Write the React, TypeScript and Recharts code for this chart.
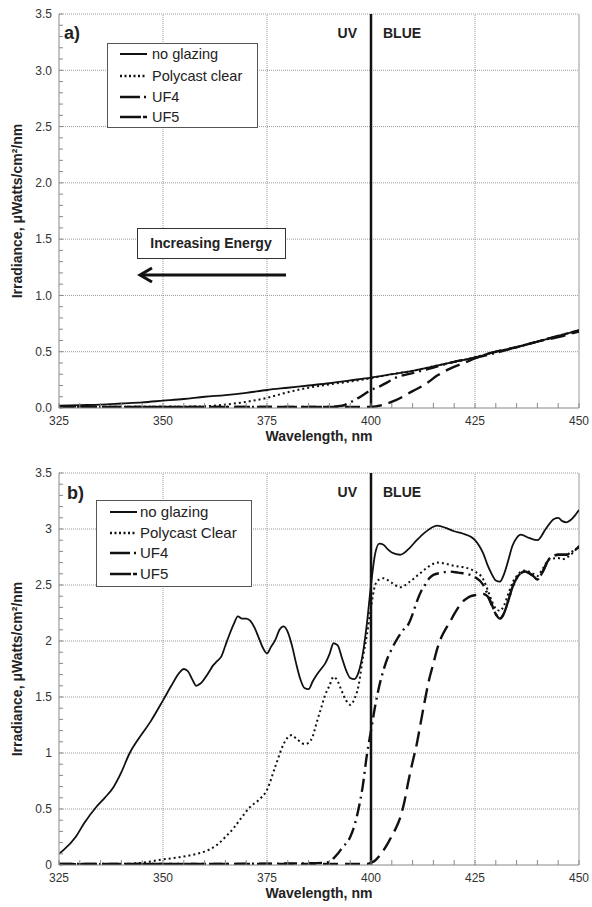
import React from "react";
import { LineChart, Line, XAxis, YAxis, ReferenceLine } from "recharts";

const FONT = '"Liberation Sans", Arial, Helvetica, sans-serif';
const INK = "#111";
const GRID = "#9a9a9a";
const AXIS = "#888";

// axis ticks
const X_MAJOR = [325, 350, 375, 400, 425, 450];
const X_TICKS = Array.from({ length: 26 }, (_, i) => 325 + i * 5);
const X_GRID = [350, 375, 425];
const Y_MAJOR = [0, 0.5, 1, 1.5, 2, 2.5, 3, 3.5];
const Y_TICKS = Array.from({ length: 36 }, (_, i) => i / 10);
const Y_GRID = [0.5, 1, 1.5, 2, 2.5, 3];

const LEGEND_A = ["no glazing", "Polycast clear", "UF4", "UF5"];
const LEGEND_B = ["no glazing", "Polycast Clear", "UF4", "UF5"];

// ---- panel a) ----
const aNoGlazingNm = [325, 330, 335, 340, 345, 350, 355, 360, 365, 370, 375, 380, 385, 390, 395, 400, 405, 410, 415, 420, 425, 430, 435, 440, 445, 450];
const aNoGlazing = [0.02, 0.025, 0.03, 0.04, 0.05, 0.065, 0.08, 0.1, 0.115, 0.135, 0.16, 0.18, 0.2, 0.22, 0.245, 0.27, 0.3, 0.33, 0.37, 0.41, 0.45, 0.5, 0.54, 0.59, 0.64, 0.69];

const aPolycastNm = [325, 330, 335, 340, 345, 350, 355, 360, 365, 370, 375, 380, 385, 390, 395, 400, 405, 410, 415, 420, 425, 430, 435, 440, 445, 450];
const aPolycast = [0.01, 0.01, 0.01, 0.01, 0.01, 0.01, 0.012, 0.015, 0.03, 0.055, 0.09, 0.14, 0.18, 0.21, 0.235, 0.265, 0.3, 0.33, 0.37, 0.41, 0.45, 0.5, 0.54, 0.59, 0.64, 0.69];

const aUF4Nm = [325, 340, 360, 380, 390, 393, 395, 397, 400, 402, 404, 406, 410, 415, 420, 425, 430, 435, 440, 445, 450];
const aUF4 = [0.01, 0.01, 0.01, 0.01, 0.01, 0.02, 0.05, 0.09, 0.16, 0.19, 0.23, 0.27, 0.31, 0.36, 0.41, 0.445, 0.49, 0.54, 0.59, 0.64, 0.69];

const aUF5Nm = [325, 340, 360, 380, 400, 403, 406, 410, 413, 416, 419, 423, 427, 430, 435, 440, 445, 450];
const aUF5 = [0.01, 0.01, 0.01, 0.01, 0.01, 0.03, 0.07, 0.15, 0.21, 0.29, 0.35, 0.41, 0.47, 0.5, 0.54, 0.59, 0.63, 0.68];

// ---- panel b) ----
const bNoGlazingNm = [325, 326, 329, 331, 334, 336, 338, 340, 342, 344, 347, 350, 352, 354, 355, 356, 357, 358, 359, 361, 362, 363, 364, 365, 366, 367, 368, 369, 370, 371, 372, 373, 374, 375, 376, 377, 378, 379, 380, 381, 382, 383, 384, 385, 386, 387, 388, 389, 390, 391, 392, 393, 394, 395, 396, 397, 398, 399, 400, 401, 402, 403, 404, 405, 407, 409, 411, 413, 415, 416, 418, 420, 422, 424, 425, 426, 427, 428, 429, 430, 431, 432, 433, 434, 435, 436, 438, 440, 442, 444, 445, 446, 447, 448, 449, 450];
const bNoGlazing = [0.1, 0.13, 0.25, 0.37, 0.52, 0.6, 0.69, 0.83, 1.0, 1.12, 1.28, 1.47, 1.6, 1.72, 1.75, 1.73, 1.66, 1.6, 1.62, 1.72, 1.78, 1.82, 1.86, 1.96, 2.06, 2.15, 2.22, 2.2, 2.2, 2.18, 2.12, 2.03, 1.94, 1.89, 1.95, 2.01, 2.1, 2.13, 2.08, 1.96, 1.8, 1.66, 1.58, 1.57, 1.64, 1.7, 1.75, 1.8, 1.88, 1.98, 1.96, 1.85, 1.74, 1.67, 1.66, 1.72, 1.88, 2.15, 2.5, 2.78, 2.87, 2.86, 2.82, 2.79, 2.77, 2.82, 2.9, 2.97, 3.02, 3.03, 3.01, 2.98, 2.96, 2.93, 2.9, 2.85, 2.78, 2.68, 2.6, 2.54, 2.53, 2.6, 2.72, 2.85, 2.92, 2.95, 2.92, 2.9, 3.0, 3.09, 3.1, 3.07, 3.06, 3.08, 3.12, 3.17];

const bPolycastNm = [325, 340, 345, 350, 354, 357, 360, 363, 365, 367, 369, 371, 373, 375, 377, 379, 380, 381, 382, 383, 384, 385, 386, 387, 388, 389, 390, 391, 392, 393, 394, 395, 396, 397, 398, 399, 400, 401, 402, 403, 405, 407, 409, 411, 413, 415, 416, 418, 420, 422, 424, 425, 427, 428, 429, 430, 431, 432, 433, 434, 435, 437, 439, 440, 441, 443, 445, 446, 448, 450];
const bPolycast = [0.01, 0.01, 0.02, 0.05, 0.07, 0.09, 0.12, 0.18, 0.25, 0.33, 0.43, 0.52, 0.58, 0.67, 0.88, 1.08, 1.14, 1.16, 1.13, 1.1, 1.08, 1.09, 1.15, 1.28, 1.4, 1.52, 1.6, 1.68, 1.64, 1.55, 1.47, 1.43, 1.48, 1.6, 1.84, 2.05, 2.3, 2.5, 2.55, 2.56, 2.52, 2.48, 2.52, 2.58, 2.64, 2.69, 2.7, 2.69, 2.67, 2.66, 2.64, 2.62, 2.55, 2.46, 2.36, 2.29, 2.27, 2.32, 2.42, 2.52, 2.58, 2.63, 2.6, 2.58, 2.63, 2.73, 2.74, 2.73, 2.77, 2.85];

const bUF4Nm = [325, 340, 360, 385, 389, 390, 391, 392, 393, 395, 396, 397, 398, 399, 400, 401, 402, 403, 404, 405, 406, 407, 408, 409, 410, 411, 412, 413, 414, 415, 417, 419, 421, 423, 425, 427, 428, 429, 430, 431, 432, 433, 434, 435, 437, 439, 440, 441, 443, 445, 447, 448, 450];
const bUF4 = [0.01, 0.01, 0.01, 0.015, 0.02, 0.03, 0.06, 0.1, 0.15, 0.25, 0.35, 0.5, 0.7, 0.98, 1.2, 1.42, 1.6, 1.74, 1.85, 1.93, 2.0, 2.06, 2.11, 2.15, 2.24, 2.35, 2.44, 2.5, 2.56, 2.59, 2.61, 2.62, 2.61, 2.6, 2.57, 2.5, 2.42, 2.33, 2.24, 2.2, 2.25, 2.36, 2.48, 2.56, 2.62, 2.58, 2.55, 2.6, 2.74, 2.77, 2.77, 2.79, 2.84];

const bUF5Nm = [325, 340, 360, 380, 399, 400, 401, 402, 403, 404, 405, 406, 407, 408, 409, 410, 411, 412, 413, 414, 415, 416, 417, 418, 419, 420, 421, 422, 423, 424, 425, 427, 428, 429, 430, 431, 432, 433, 434, 435, 437, 439, 440, 441, 443, 445, 447, 448, 450];
const bUF5 = [0.01, 0.01, 0.01, 0.01, 0.01, 0.02, 0.04, 0.08, 0.13, 0.19, 0.26, 0.33, 0.42, 0.56, 0.75, 0.92, 1.08, 1.28, 1.48, 1.66, 1.8, 1.94, 2.04, 2.11, 2.17, 2.24, 2.3, 2.35, 2.38, 2.4, 2.41, 2.42, 2.4, 2.32, 2.24, 2.2, 2.25, 2.36, 2.48, 2.56, 2.62, 2.58, 2.55, 2.6, 2.74, 2.77, 2.77, 2.79, 2.84];

const pts = (nm: number[], v: number[]) => nm.map((x, i) => ({ nm: x, v: v[i] }));

const STYLES = [
    { stroke: INK, strokeWidth: 1.8, strokeDasharray: undefined as string | undefined },
    { stroke: INK, strokeWidth: 2, strokeDasharray: "2 3" },
    { stroke: INK, strokeWidth: 2.4, strokeDasharray: "13 5 2 5" },
    { stroke: INK, strokeWidth: 2.4, strokeDasharray: "15 7" },
];
const LEGEND_DASH = [undefined, "2 2.5", "20 4 2 20", "21 2 6 20"];

const SERIES_A = [pts(aNoGlazingNm, aNoGlazing), pts(aPolycastNm, aPolycast), pts(aUF4Nm, aUF4), pts(aUF5Nm, aUF5)];
const SERIES_B = [pts(bNoGlazingNm, bNoGlazing), pts(bPolycastNm, bPolycast), pts(bUF4Nm, bUF4), pts(bUF5Nm, bUF5)];

const XTick = (props: any) => {
    const { x, y, payload } = props;
    const v = payload.value;
    return (
        <g>
            <line x1={x} x2={x} y1={y - 8} y2={y - 13} stroke={AXIS} />
            {X_MAJOR.includes(v) && (
                <text x={x} y={y} dy="0.71em" textAnchor="middle" fontSize={12} fill="#333" fontFamily={FONT}>
                    {v}
                </text>
            )}
        </g>
    );
};

const YTick = (props: any) => {
    const { x, y, payload, fixed } = props;
    const v = payload.value;
    return (
        <g>
            <line x1={x + 7} x2={x + 11} y1={y} y2={y} stroke={AXIS} />
            {Y_MAJOR.includes(v) && (
                <text x={x} y={y} dy="0.355em" textAnchor="end" fontSize={12} fill="#333" fontFamily={FONT}>
                    {fixed ? v.toFixed(1) : String(v)}
                </text>
            )}
        </g>
    );
};

interface LegendBoxProps {
    x: number;
    y: number;
    w: number;
    h: number;
    rows: number[];
    sx: number;
    tx: number;
    labels: string[];
    fontSize: number;
}

function LegendBox({ x, y, w, h, rows, sx, tx, labels, fontSize }: LegendBoxProps) {
    return (
        <g transform={`translate(${x},${y})`}>
            <rect x={0.5} y={0.5} width={w} height={h} fill="#fff" stroke="#555" />
            {labels.map((lab, i) => (
                <g key={lab}>
                    <line
                        x1={sx}
                        x2={sx + 27}
                        y1={rows[i]}
                        y2={rows[i]}
                        stroke={INK}
                        strokeWidth={i === 0 ? 2 : 2.4}
                        strokeDasharray={LEGEND_DASH[i]}
                    />
                    <text x={tx} y={rows[i]} dy="0.355em" fontSize={fontSize} fill="#222" fontFamily={FONT}>
                        {lab}
                    </text>
                </g>
            ))}
        </g>
    );
}

interface PanelProps {
    series: { nm: number; v: number }[][];
    top: number;
    height: number;
    fixed: boolean;
    children?: React.ReactNode;
}

function Panel({ series, top, height, fixed, children }: PanelProps) {
    const labelStyle = { fontWeight: 700, fontSize: 14, fill: "#222", fontFamily: FONT };
    return (
        <div style={{ position: "absolute", left: 0, top, width: 592, height }}>
            <LineChart width={592} height={height} margin={{ top: 14, right: 13, bottom: 0, left: 0 }}>
                <XAxis
                    dataKey="nm"
                    type="number"
                    domain={[325, 450]}
                    ticks={X_TICKS}
                    interval={0}
                    tickSize={0}
                    tickMargin={8}
                    tickLine={false}
                    height={42}
                    axisLine={{ stroke: AXIS }}
                    tick={<XTick />}
                    allowDataOverflow
                    label={{ value: "Wavelength, nm", position: "insideBottom", offset: 9, style: labelStyle }}
                />
                <YAxis
                    type="number"
                    domain={[0, 3.5]}
                    ticks={Y_TICKS}
                    interval={0}
                    tickSize={0}
                    tickMargin={7}
                    tickLine={false}
                    width={59}
                    axisLine={{ stroke: AXIS }}
                    tick={(p: any) => <YTick {...p} fixed={fixed} />}
                    allowDataOverflow
                    label={{
                        value: "Irradiance, \u03bcWatts/cm\u00b2/nm",
                        angle: -90,
                        position: "insideLeft",
                        offset: 17,
                        style: { ...labelStyle, textAnchor: "middle" },
                    }}
                />
                {Y_GRID.map((v) => (
                    <ReferenceLine key={`gy${v}`} y={v} stroke={GRID} strokeDasharray="1 1" />
                ))}
                {X_GRID.map((v) => (
                    <ReferenceLine key={`gx${v}`} x={v} stroke={GRID} strokeDasharray="1 1" />
                ))}
                <ReferenceLine y={3.5} stroke={GRID} strokeDasharray="1 1" />
                <ReferenceLine x={450} stroke={GRID} />
                {series.map((data, i) => (
                    <Line
                        key={i}
                        data={data}
                        dataKey="v"
                        type="monotone"
                        dot={false}
                        activeDot={false}
                        stroke={STYLES[i].stroke}
                        strokeWidth={STYLES[i].strokeWidth}
                        strokeDasharray={STYLES[i].strokeDasharray}
                        isAnimationActive={false}
                    />
                ))}
                <ReferenceLine x={400} stroke={INK} strokeWidth={2.5} />
            </LineChart>
            <svg
                width={592}
                height={height}
                style={{ position: "absolute", left: 0, top: 0, pointerEvents: "none" }}
            >
                {children}
            </svg>
        </div>
    );
}

const boldText = { fontFamily: FONT, fontWeight: 700, fill: "#222" };

export default function App() {
    return (
        <div style={{ position: "absolute", left: 0, top: 0, width: 592, height: 907, background: "#fff", overflow: "visible" }}>
            <style>{`.recharts-surface, .recharts-wrapper { overflow: visible !important; }`}</style>
            <Panel series={SERIES_A} top={0} height={450} fixed>
                <text x={64} y={33} dy="0.355em" fontSize={18} {...boldText}>a)</text>
                <text x={357} y={33} dy="0.355em" fontSize={14} textAnchor="end" {...boldText}>UV</text>
                <text x={383} y={33} dy="0.355em" fontSize={14} {...boldText}>BLUE</text>
                <LegendBox x={107} y={43} w={150} h={84} rows={[11, 33, 54, 74]} sx={13} tx={45} labels={LEGEND_A} fontSize={14.5} />
                <rect x={137.5} y={228.5} width={148} height={30} fill="#fff" stroke="#333" />
                <text x={211} y={243} dy="0.355em" fontSize={14} textAnchor="middle" {...boldText}>Increasing Energy</text>
                <line x1={140} x2={286} y1={275} y2={275} stroke={INK} strokeWidth={3} />
                <polyline points="152,268 140,275 152,282" fill="none" stroke={INK} strokeWidth={3} />
            </Panel>
            <Panel series={SERIES_B} top={459} height={448} fixed={false}>
                <text x={67} y={34} dy="0.355em" fontSize={18} {...boldText}>b)</text>
                <text x={357} y={33} dy="0.355em" fontSize={14} textAnchor="end" {...boldText}>UV</text>
                <text x={383} y={33} dy="0.355em" fontSize={14} {...boldText}>BLUE</text>
                <LegendBox x={96} y={41} w={155} h={86} rows={[12, 33, 53, 74]} sx={14} tx={44} labels={LEGEND_B} fontSize={15} />
            </Panel>
        </div>
    );
}
